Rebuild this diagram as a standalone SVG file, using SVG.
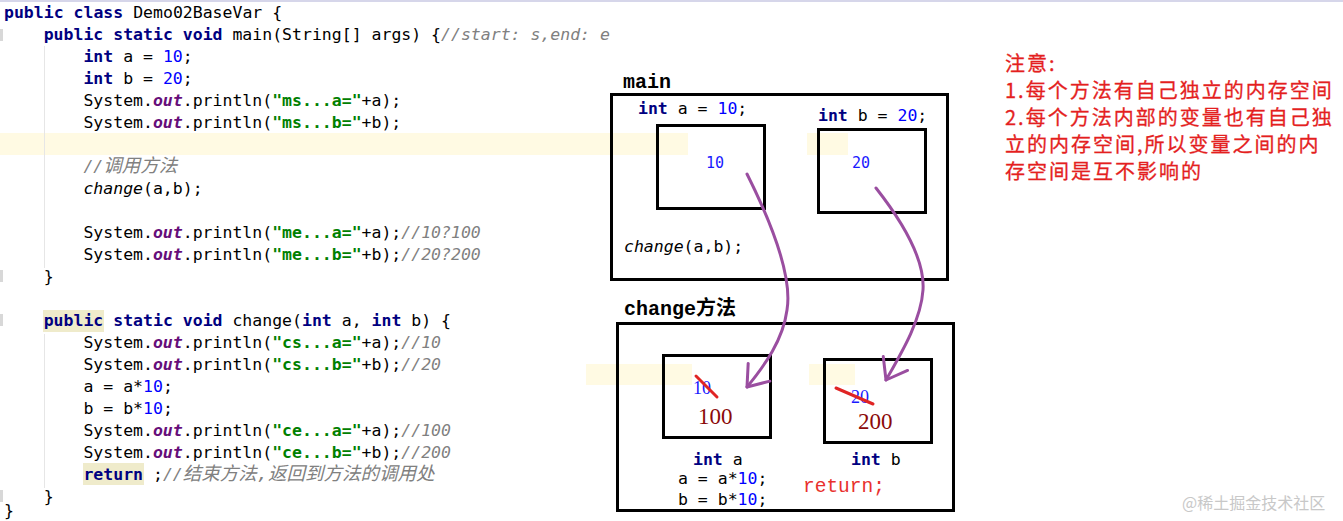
<svg xmlns="http://www.w3.org/2000/svg" width="1343" height="521" viewBox="0 0 1343 521">
<style>
.code{font-family:"DejaVu Sans Mono","Noto Sans CJK SC",monospace;font-size:16.5px;fill:#000;white-space:pre}
.kw{font-weight:bold;fill:#000080}
.num{fill:#0000ff}
.str{font-weight:bold;fill:#008000}
.fld{font-weight:bold;font-style:italic;fill:#660e7a}
.cmt{font-style:italic;fill:#808080}
.cjk{font-size:18.5px}
.it{font-style:italic}
.frame{fill:none;stroke:#000;stroke-width:3}
.label{font-family:"Liberation Mono","Noto Sans CJK SC",monospace;font-size:20px;font-weight:bold;fill:#000}
.val{font-family:"Liberation Serif",serif;font-size:18px;fill:#1a1aff}
.newval{font-family:"Liberation Serif",serif;font-size:23px;fill:#8b0a0a}
.strike{stroke:#e02424;stroke-width:3;stroke-linecap:round}
.note{font-family:"Noto Sans CJK SC",sans-serif;font-size:20px;letter-spacing:2px;fill:#e41f1f;stroke:#e41f1f;stroke-width:0.3}
.flow{fill:none;stroke:#9a4ea0;stroke-width:3;stroke-linecap:round;marker-end:url(#vhead)}
</style>
<defs>
<marker id="vhead" markerUnits="userSpaceOnUse" viewBox="-22 -18 26 36" refX="0" refY="0" markerWidth="26" markerHeight="36" orient="auto" overflow="visible">
<path d="M-19,-14 L0,0 L-19,14" fill="none" stroke="#9a4ea0" stroke-width="3" stroke-linecap="round" stroke-linejoin="round"/>
</marker>
</defs>
<rect x="0" y="0" width="1343" height="521" fill="#fff"/>
<rect x="0" y="0" width="1343" height="2" fill="#d6d6ea"/>
<!-- highlight bands -->
<rect x="0" y="133" width="688" height="22" fill="#fffae3"/>
<rect x="807" y="133" width="41" height="22" fill="#fffae3"/>
<rect x="586" y="364" width="106" height="21" fill="#fffae3"/>
<rect x="809" y="364" width="46" height="21" fill="#fffae3"/>
<rect x="43" y="310" width="61" height="22" fill="#efebcb"/>
<rect x="83" y="463" width="61" height="22" fill="#efebcb"/>
<!-- gutter -->
<g id="gutter" fill="#d8d8d8">
<rect x="0" y="29" width="3" height="12"/>
<rect x="0" y="270" width="3" height="12"/>
<rect x="0" y="314" width="3" height="12"/>
<rect x="0" y="490" width="3" height="12"/>
<line x1="44.5" y1="46" x2="44.5" y2="268" stroke="#e6e6e6" stroke-width="1"/>
<line x1="44.5" y1="334" x2="44.5" y2="488" stroke="#e6e6e6" stroke-width="1"/>
</g>
<g id="code" class="code">
<text x="4" y="18"><tspan class="kw">public class</tspan> Demo02BaseVar {</text>
<text x="43.7" y="40"><tspan class="kw">public static void</tspan> main(String[] args) {<tspan class="cmt">//start: s,end: e</tspan></text>
<text x="83.4" y="62"><tspan class="kw">int</tspan> a = <tspan class="num">10</tspan>;</text>
<text x="83.4" y="84"><tspan class="kw">int</tspan> b = <tspan class="num">20</tspan>;</text>
<text x="83.4" y="106">System.<tspan class="fld">out</tspan>.println(<tspan class="str">"ms...a="</tspan>+a);</text>
<text x="83.4" y="128">System.<tspan class="fld">out</tspan>.println(<tspan class="str">"ms...b="</tspan>+b);</text>
<text x="83.4" y="172" class="cmt">//<tspan class="cjk">调用方法</tspan></text>
<text x="83.4" y="194"><tspan class="it">change</tspan>(a,b);</text>
<text x="83.4" y="238">System.<tspan class="fld">out</tspan>.println(<tspan class="str">"me...a="</tspan>+a);<tspan class="cmt">//10?100</tspan></text>
<text x="83.4" y="260">System.<tspan class="fld">out</tspan>.println(<tspan class="str">"me...b="</tspan>+b);<tspan class="cmt">//20?200</tspan></text>
<text x="43.7" y="282">}</text>
<text x="43.7" y="326"><tspan class="kw">public static void</tspan> change(<tspan class="kw">int</tspan> a, <tspan class="kw">int</tspan> b) {</text>
<text x="83.4" y="348">System.<tspan class="fld">out</tspan>.println(<tspan class="str">"cs...a="</tspan>+a);<tspan class="cmt">//10</tspan></text>
<text x="83.4" y="370">System.<tspan class="fld">out</tspan>.println(<tspan class="str">"cs...b="</tspan>+b);<tspan class="cmt">//20</tspan></text>
<text x="83.4" y="392">a = a*<tspan class="num">10</tspan>;</text>
<text x="83.4" y="414">b = b*<tspan class="num">10</tspan>;</text>
<text x="83.4" y="436">System.<tspan class="fld">out</tspan>.println(<tspan class="str">"ce...a="</tspan>+a);<tspan class="cmt">//100</tspan></text>
<text x="83.4" y="458">System.<tspan class="fld">out</tspan>.println(<tspan class="str">"ce...b="</tspan>+b);<tspan class="cmt">//200</tspan></text>
<text x="83.4" y="480"><tspan class="kw">return</tspan> ;<tspan class="cmt">//<tspan class="cjk">结束方法,返回到方法的调用处</tspan></tspan></text>
<text x="43.7" y="502">}</text>
<text x="4" y="516">}</text>
</g>
<g id="main-frame">
<text class="label" x="623" y="88">main</text>
<rect class="frame" x="611.5" y="94.5" width="336" height="185"/>
<text class="code" x="624" y="252"><tspan class="it">change</tspan>(a,b);</text>
</g>
<g id="main-var-a">
<text class="code" x="638" y="114"><tspan class="kw">int</tspan> a = <tspan class="num">10</tspan>;</text>
<rect class="frame" x="657.5" y="125.5" width="107" height="83"/>
<text class="code" x="706" y="168" style="font-size:15px;fill:#1a1aff">10</text>
</g>
<g id="main-var-b">
<text class="code" x="818" y="121"><tspan class="kw">int</tspan> b = <tspan class="num">20</tspan>;</text>
<rect class="frame" x="818.5" y="129.5" width="107" height="83"/>
<text class="code" x="852" y="168" style="font-size:15px;fill:#1a1aff">20</text>
</g>
<g id="change-frame">
<text class="label" x="624" y="315">change方法</text>
<rect class="frame" x="617.5" y="323.5" width="336" height="187"/>
<text class="code" x="678" y="484">a = a*<tspan class="num">10</tspan>;</text>
<text class="code" x="678" y="505">b = b*<tspan class="num">10</tspan>;</text>
<text x="803" y="492" style="font-family:'Liberation Mono',monospace;font-size:19.5px;fill:#e8312d">return;</text>
</g>
<g id="change-var-a">
<rect class="frame" x="663.5" y="355.5" width="107" height="82"/>
<text class="val" x="693" y="394">10</text>
<line class="strike" x1="696" y1="376" x2="717" y2="397"/>
<text class="newval" x="698" y="424">100</text>
<text class="code" x="693" y="465"><tspan class="kw">int</tspan> a</text>
</g>
<g id="change-var-b">
<rect class="frame" x="824.5" y="359.5" width="107" height="83"/>
<text class="val" x="851" y="403">20</text>
<line class="strike" x1="836" y1="388" x2="873" y2="404"/>
<text class="newval" x="858" y="429">200</text>
<text class="code" x="851" y="465"><tspan class="kw">int</tspan> b</text>
</g>
<g id="connectors">
<path class="flow" d="M747,174 C775,230 792,280 787,310 C783,340 765,365 747,387"/>
<path class="flow" d="M876,188 C905,225 925,260 923,290 C921,320 902,352 886,380"/>
</g>
<g id="note" class="note">
<text x="1005" y="71">注意:</text>
<text x="1005" y="98">1.每个方法有自己独立的内存空间</text>
<text x="1005" y="125">2.每个方法内部的变量也有自己独</text>
<text x="1005" y="152">立的内存空间,所以变量之间的内</text>
<text x="1005" y="179">存空间是互不影响的</text>
</g>
<text x="1182" y="509" style="font-family:'Noto Sans CJK SC',sans-serif;font-size:16px;fill:#c8c8c8">@稀土掘金技术社区</text>
</svg>
